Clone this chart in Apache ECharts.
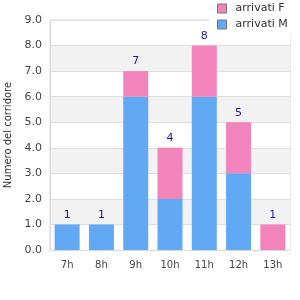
<!DOCTYPE html>
<html>
<head>
<meta charset="utf-8">
<script src="https://cdn.jsdelivr.net/npm/echarts@6/dist/echarts.min.js"></script>
<style>
  html, body { margin: 0; padding: 0; background: #fff; }
  #chart { width: 300px; height: 300px; }
</style>
</head>
<body>
<div id="chart"></div>
<script>
const categories = ["7h", "8h", "9h", "10h", "11h", "12h", "13h"];
const arrivatiM = [1, 1, 6, 2, 6, 3, 0];
const arrivatiF = [0, 0, 1, 2, 2, 2, 1];
const totals = categories.map((c, i) => arrivatiM[i] + arrivatiF[i]);

const myChart = echarts.init(document.getElementById("chart"));
myChart.setOption({
  animation: false,
  textStyle: { fontFamily: "DejaVu Sans" },
  grid: {
    left: 50,
    right: 10,
    top: 20,
    bottom: 50,
    outerBoundsMode: "none",
    containLabel: false,
    show: true,
    borderColor: "#d9d9d9",
    borderWidth: 1,
  },
  legend: {
    orient: "vertical",
    left: 209,
    top: 0,
    icon: "rect",
    itemWidth: 9,
    itemHeight: 9,
    itemGap: 5,
    padding: [3, 20, 4, 8],
    backgroundColor: "#fff",
    textStyle: { fontSize: 11, color: "#333", padding: [0, 0, 0, 4] },
    data: [
      { name: "arrivati F", itemStyle: { borderColor: "#777", borderWidth: 1 } },
      { name: "arrivati M", itemStyle: { borderColor: "#777", borderWidth: 1 } },
    ],
  },
  xAxis: {
    type: "category",
    data: categories,
    axisLine: { lineStyle: { color: "#d9d9d9" } },
    axisTick: { show: false },
    axisLabel: { color: "#444", fontSize: 10, margin: 10 },
  },
  yAxis: {
    type: "value",
    min: 0,
    max: 9,
    interval: 1,
    name: "Numero del corridore",
    nameLocation: "middle",
    nameGap: 37,
    nameTextStyle: { color: "#333", fontSize: 10 },
    axisLine: { show: true, lineStyle: { color: "#d9d9d9" } },
    axisTick: { show: false },
    axisLabel: {
      color: "#444",
      fontSize: 11,
      formatter: (v) => v.toFixed(1),
    },
    splitLine: { lineStyle: { color: "#dedede" } },
    splitArea: { show: true, areaStyle: { color: ["#ffffff", "#f2f2f2"] } },
  },
  series: [
    {
      name: "arrivati M",
      type: "bar",
      stack: "tot",
      barWidth: 25,
      data: arrivatiM,
      itemStyle: { color: "#62a9f4" },
    },
    {
      name: "arrivati F",
      type: "bar",
      stack: "tot",
      barWidth: 25,
      data: arrivatiF,
      itemStyle: { color: "#f283bb" },
      label: {
        show: true,
        position: "top",
        distance: 4,
        color: "#1a1a99",
        fontSize: 11,
        formatter: (p) => totals[p.dataIndex],
      },
    },
  ],
});
</script>
</body>
</html>
